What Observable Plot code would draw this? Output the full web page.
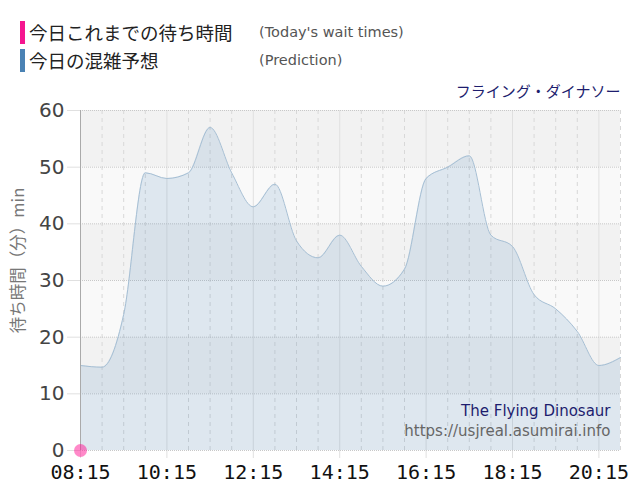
<!DOCTYPE html>
<html><head><meta charset="utf-8">
<script src="https://cdn.jsdelivr.net/npm/d3@7"></script>
<script src="https://cdn.jsdelivr.net/npm/@observablehq/plot@0.6"></script>
<style>
body{margin:0;background:#fff;font-family:"DejaVu Sans",Verdana,sans-serif;}
#legend{height:80px;position:relative;}
.row{position:absolute;left:20px;height:24px;display:flex;align-items:center;}
.bar{width:5px;height:23px;margin-right:4px;}
.jp{font-family:"Noto Sans CJK JP",sans-serif;font-size:18.5px;color:#222;width:230px;}
.en{font-size:14.5px;color:#555;}
</style></head>
<body>
<div id="legend">
 <div class="row" style="top:20px"><div class="bar" style="background:#f5168f"></div><span class="jp" id="l1"></span><span class="en" id="e1"></span></div>
 <div class="row" style="top:48px"><div class="bar" style="background:#4a82b4"></div><span class="jp" id="l2"></span><span class="en" id="e2"></span></div>
</div>
<div id="chart"></div>
<script>
const legendLabels = ["今日これまでの待ち時間", "今日の混雑予想"];
const legendNotes = ["(Today's wait times)", "(Prediction)"];
const subtitle = "フライング・ダイナソー";
const yLabel = "待ち時間（分）min";
const creditName = "The Flying Dinosaur";
const creditUrl = "https://usjreal.asumirai.info";

const predTimes = ["08:15","08:45","09:15","09:45","10:15","10:45","11:15","11:45","12:15","12:45","13:15","13:45","14:15","14:45","15:15","15:45","16:15","16:45","17:15","17:45","18:15","18:45","19:15","19:45","20:15","20:45"];
const predValues = [15,14.7,24,49,48,49,57,49,43,47,37,34,38,32.5,29,32,48,50,52,38,36,27.5,25,21,15,16.4];
const actualTimes = ["08:15"];
const actualValues = [0];
const xTickLabels = ["08:15","10:15","12:15","14:15","16:15","18:15","20:15"];
const minorTimes = ["08:45","09:15","09:45","10:45","11:15","11:45","12:45","13:15","13:45","14:45","15:15","15:45","16:45","17:15","17:45","18:45","19:15","19:45","20:45"];
const yTicks = [0,10,20,30,40,50,60];
const xStart = "08:15", xEnd = "20:45";

document.getElementById("l1").textContent = legendLabels[0];
document.getElementById("l2").textContent = legendLabels[1];
document.getElementById("e1").textContent = legendNotes[0];
document.getElementById("e2").textContent = legendNotes[1];

const t = s => { const [h,m] = s.split(":").map(Number); return new Date(Date.UTC(2024,0,1,h,m)); };
const pred = predTimes.map((s,i) => ({time: t(s), value: predValues[i]}));
const actual = actualTimes.map((s,i) => ({time: t(s), value: actualValues[i]}));
const bands = yTicks.slice(0,-1).map((v,i) => ({y1: v, y2: yTicks[i+1], fill: (i % 2 === 0) ? "#f9f9f9" : "#f2f2f2"}));

const chart = Plot.plot({
  width: 640, height: 420,
  marginTop: 30, marginBottom: 50, marginLeft: 80, marginRight: 20,
  style: {fontFamily: "DejaVu Sans, sans-serif", background: "#fff", overflow: "visible"},
  x: {type: "utc", domain: [t(xStart), t(xEnd)], axis: null},
  y: {domain: [0, 60], axis: null},
  marks: [
    Plot.rectY(bands, {y1: "y1", y2: "y2", fill: "fill", x1: t(xStart), x2: t(xEnd)}),
    Plot.ruleX(minorTimes.map(t), {stroke: "#d8d8d8", strokeDasharray: "4,4", strokeWidth: 1}),
    Plot.ruleX(xTickLabels.map(t), {stroke: "#e0e0e0", strokeWidth: 1, insetBottom: -8}),
    Plot.ruleY(yTicks, {stroke: "#c8c8c8", strokeDasharray: "1,1", strokeWidth: 1}),
    Plot.ruleY(yTicks, {x1: t(xStart), x2: t(xStart), stroke: "#e0e0e0", insetLeft: -13}),
    Plot.areaY(pred, {x: "time", y: "value", curve: "monotone-x", fill: "steelblue", fillOpacity: 0.15}),
    Plot.lineY(pred, {x: "time", y: "value", curve: "monotone-x", stroke: "#a6bfd4", strokeWidth: 1}),
    Plot.ruleX([t(xStart)], {stroke: "#aaa", strokeWidth: 1}),
    Plot.axisY({ticks: yTicks, tickSize: 0, tickPadding: 16, fontSize: 20, fill: "#444", label: null}),
    Plot.axisX({ticks: xTickLabels.map(t), tickFormat: d3.utcFormat("%H:%M"), tickSize: 0, tickPadding: 14, fontSize: 20, fontFamily: "DejaVu Sans Mono, monospace", fill: "#111", label: null}),
    Plot.text([yLabel], {frameAnchor: "left", textAnchor: "middle", dx: -62, dy: -20, rotate: -90, fontSize: 16.5, fill: "#777", fontFamily: "Noto Sans CJK JP, DejaVu Sans, sans-serif"}),
    Plot.text([subtitle], {frameAnchor: "top-right", dy: -24, dx: 0, fontSize: 15, fill: "#1d1d6e", fontFamily: "Noto Sans CJK JP, sans-serif"}),
    Plot.text([creditName], {frameAnchor: "bottom-right", dx: -10, dy: -35, fontSize: 15, fill: "#1d1d6e"}),
    Plot.text([creditUrl], {frameAnchor: "bottom-right", dx: -10, dy: -15, fontSize: 15, fill: "#666"}),
    Plot.dot(actual, {x: "time", y: "value", r: 6.5, fill: "#ff1493", fillOpacity: 0.5, stroke: null})
  ]
});
document.getElementById("chart").appendChild(chart);
</script>
</body></html>
